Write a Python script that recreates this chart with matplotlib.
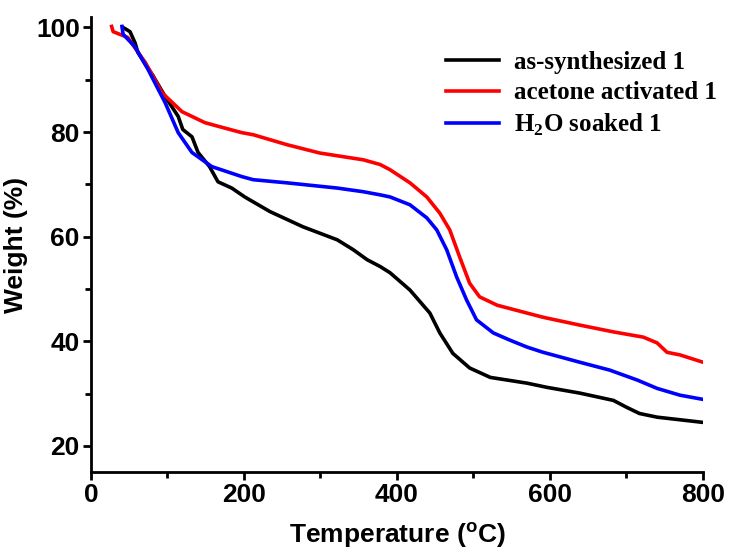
import matplotlib
matplotlib.use('Agg')
import matplotlib.pyplot as plt
from matplotlib.ticker import MultipleLocator

# TGA curves
t_synth = [42, 51, 57.5, 61.4, 81, 97, 114, 120, 132, 140, 155, 166, 184, 201, 234, 277,
           322, 343, 361, 378, 391, 417, 443, 456, 473, 495, 522, 570, 596, 639, 683,
           700, 717, 740, 800]
w_synth = [100, 99.2, 97.1, 95.2, 90.8, 86.8, 83.0, 80.5, 79.1, 76.1, 73.4, 70.5, 69.3, 67.6, 64.8, 61.9,
           59.4, 57.5, 55.6, 54.3, 53.1, 49.8, 45.4, 41.6, 37.7, 34.9, 33.1, 32.0, 31.2, 30.1, 28.7,
           27.4, 26.2, 25.5, 24.5]

t_acetone = [27, 29, 48, 71, 93, 119, 149, 169, 197, 212, 256, 299, 356, 378, 391, 417,
             439, 456, 469, 482, 495, 508, 531, 570, 591, 639, 683, 722, 740, 753, 770, 800]
w_acetone = [100.2, 99.2, 98.1, 93.3, 87.5, 83.9, 81.8, 81.0, 79.9, 79.5, 77.6, 76.0, 74.7, 73.8, 72.8, 70.3,
             67.6, 64.5, 61.3, 56.1, 51.1, 48.5, 46.9, 45.4, 44.6, 43.1, 41.8, 40.8, 39.7, 37.9, 37.4, 36.0]

t_water = [40.5, 42, 57, 74.5, 97, 114, 132, 158, 197, 212, 256, 322, 356, 378, 391, 417,
           439, 452, 465, 478, 491, 504, 526, 548, 570, 591, 639, 678, 714, 740, 770, 800]
w_water = [100.2, 98.7, 96.4, 92.0, 85.6, 79.9, 76.1, 73.4, 71.5, 70.9, 70.3, 69.3, 68.6, 68.0, 67.6, 66.1,
           63.6, 61.3, 57.5, 52.3, 47.9, 44.1, 41.6, 40.2, 38.9, 37.9, 36.0, 34.5, 32.6, 31.0, 29.7, 28.9]

plt.rcParams['font.family'] = 'Liberation Sans'
plt.rcParams['font.weight'] = 'bold'
plt.rcParams['mathtext.fontset'] = 'custom'
plt.rcParams['mathtext.rm'] = 'Liberation Sans:bold'
plt.rcParams['mathtext.it'] = 'Liberation Sans:bold'
plt.rcParams['mathtext.bf'] = 'Liberation Serif:bold'  # used for the legend subscript

fig = plt.figure(figsize=(7.29, 5.6), dpi=100)
ax = fig.add_axes([0.1248, 0.157, 0.8395, 0.8126])

lw = 2.6
ax.plot(t_synth, w_synth, color='black', lw=lw, solid_joinstyle='round', label='as-synthesized 1')
ax.plot(t_acetone, w_acetone, color='red', lw=lw, solid_joinstyle='round', label='acetone activated 1')
ax.plot(t_water, w_water, color='blue', lw=lw, solid_joinstyle='round', label='H$_\\mathbf{2}$O soaked 1')

ax.set_xlim(0, 800)
ax.set_ylim(15, 102)
ax.spines['top'].set_visible(False)
ax.spines['right'].set_visible(False)
for s in ['left', 'bottom']:
    ax.spines[s].set_linewidth(2)

ax.xaxis.set_major_locator(MultipleLocator(200))
ax.xaxis.set_minor_locator(MultipleLocator(100))
ax.yaxis.set_major_locator(MultipleLocator(20))
ax.yaxis.set_minor_locator(MultipleLocator(10))
ax.set_yticks([20, 40, 60, 80, 100])
ax.tick_params(which='major', direction='out', length=6, width=2, labelsize=19, pad=2)
ax.tick_params(which='minor', direction='out', length=4, width=2)

ax.set_xlabel('Temperature ($^\\mathrm{o}$C)', fontsize=19, fontweight='bold', labelpad=10)
ax.set_ylabel('Weight (%)', fontsize=19, fontweight='bold', labelpad=6)

leg = ax.legend(loc='upper right', bbox_to_anchor=(1.059, 0.975), frameon=False,
                prop={'family': 'Liberation Serif', 'weight': 'bold', 'size': 18},
                handlelength=2.1, handletextpad=0.6, labelspacing=0.3)

fig.savefig('out.png', dpi=100)
